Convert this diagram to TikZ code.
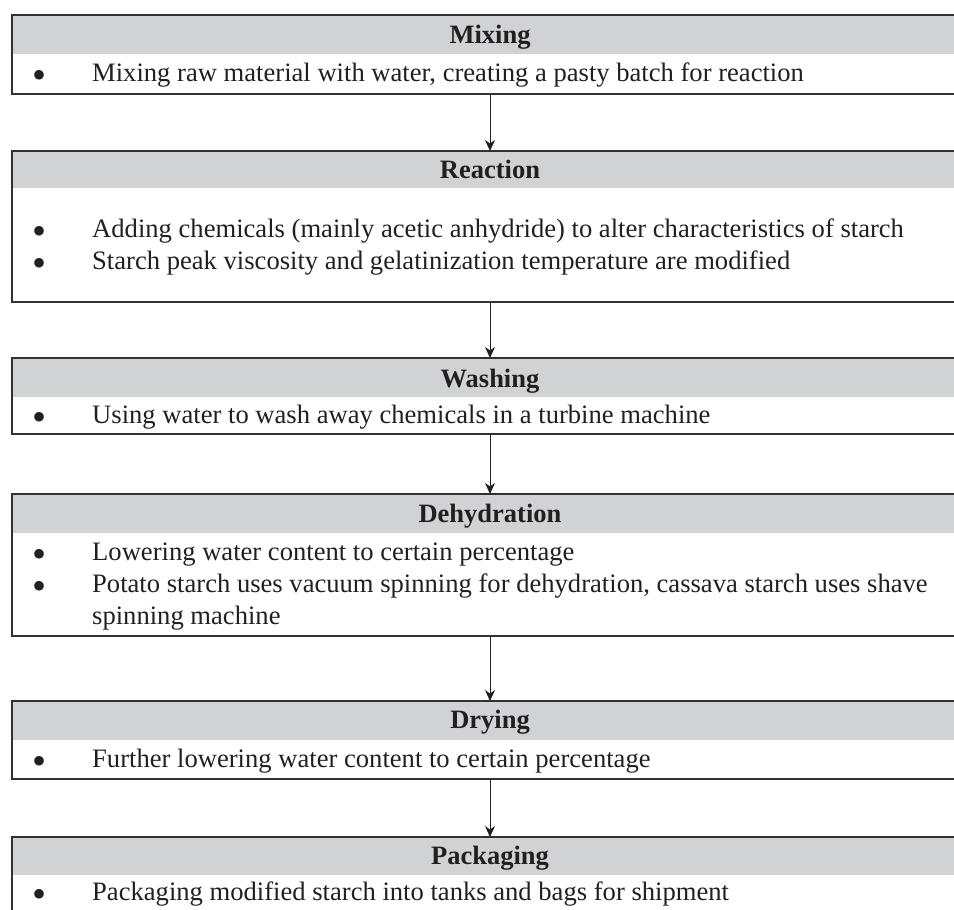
\documentclass[tikz,border=0pt]{standalone}
\usepackage{fontspec}
\setmainfont{Liberation Serif}
\usetikzlibrary{arrows.meta}
\definecolor{hdrgray}{RGB}{209,210,212}
\definecolor{edgegray}{RGB}{50,50,50}
\definecolor{inkc}{RGB}{35,31,32}
\newcommand{\bigdot}{\smash{\raisebox{-7pt}{\textbullet}}}
\begin{document}
\begin{tikzpicture}[x=1pt,y=-1pt,
  stagebox/.style={draw=edgegray, line width=1.3pt, minimum width=956pt, inner sep=0pt, outer sep=0pt},
  hdrfill/.style={fill=hdrgray},
  hdr/.style={font=\fontsize{26.5}{30}\selectfont\bfseries, anchor=base, inner sep=0pt, text=inkc},
  bul/.style={font=\fontsize{40}{40}\selectfont, anchor=base, inner sep=0pt, text=inkc},
  txt/.style={font=\fontsize{26.6}{32.5}\selectfont, anchor=base west, inner sep=0pt, text=inkc},
  flow/.style={draw=inkc, line width=0.9pt, -{Stealth[length=11pt,width=10pt,inset=3.5pt]}}
]
\useasboundingbox (0,0) rectangle (954,910);

% Mixing
\fill[hdrfill] (12,15) rectangle (968,54);
\node[stagebox, minimum height=79pt] (mix) at (490,54.5) {};
\node[hdr] (mixh) at (490,43) {Mixing};
\node[bul] (mixb1) at (40,81) {\bigdot};
\node[txt] (mixt1) at (92,81) {Mixing raw material with water, creating a pasty batch for reaction};

% Reaction
\fill[hdrfill] (12,151) rectangle (968,188);
\node[stagebox, minimum height=151pt] (react) at (490,226.5) {};
\node[hdr] (reacth) at (490,178) {Reaction};
\node[bul] (reactb1) at (40,237) {\bigdot};
\node[txt] (reactt1) at (92,237) {Adding chemicals (mainly acetic anhydride) to alter characteristics of starch};
\node[bul] (reactb2) at (40,269) {\bigdot};
\node[txt] (reactt2) at (92,269) {Starch peak viscosity and gelatinization temperature are modified};

% Washing
\fill[hdrfill] (12,358) rectangle (968,397);
\node[stagebox, minimum height=76pt] (wash) at (490,396) {};
\node[hdr] (washh) at (490,387) {Washing};
\node[bul] (washb1) at (40,423) {\bigdot};
\node[txt] (washt1) at (92,423) {Using water to wash away chemicals in a turbine machine};

% Dehydration
\fill[hdrfill] (12,494) rectangle (968,533);
\node[stagebox, minimum height=142pt] (dehyd) at (490,565) {};
\node[hdr] (dehydh) at (490,522) {Dehydration};
\node[bul] (dehydb1) at (40,560) {\bigdot};
\node[txt] (dehydt1) at (92,560) {Lowering water content to certain percentage};
\node[bul] (dehydb2) at (40,592) {\bigdot};
\node[txt] (dehydt2) at (92,592) {Potato starch uses vacuum spinning for dehydration, cassava starch uses shave};
\node[txt] (dehydt3) at (92,624) {spinning machine};

% Drying
\fill[hdrfill] (12,701) rectangle (968,740);
\node[stagebox, minimum height=78pt] (dry) at (490,740) {};
\node[hdr] (dryh) at (490,728) {Drying};
\node[bul] (dryb1) at (40,767) {\bigdot};
\node[txt] (dryt1) at (92,767) {Further lowering water content to certain percentage};

% Packaging
\fill[hdrfill] (12,837) rectangle (968,875);
\node[stagebox, minimum height=93pt] (pack) at (490,883.5) {};
\node[hdr] (packh) at (490,864) {Packaging};
\node[bul] (packb1) at (40,900) {\bigdot};
\node[txt] (packt1) at (92,900) {Packaging modified starch into tanks and bags for shipment};

% Connectors
\draw[flow] (mix.south) -- (react.north);
\draw[flow] (react.south) -- (wash.north);
\draw[flow] (wash.south) -- (dehyd.north);
\draw[flow] (dehyd.south) -- (dry.north);
\draw[flow] (dry.south) -- (pack.north);
\end{tikzpicture}
\end{document}
